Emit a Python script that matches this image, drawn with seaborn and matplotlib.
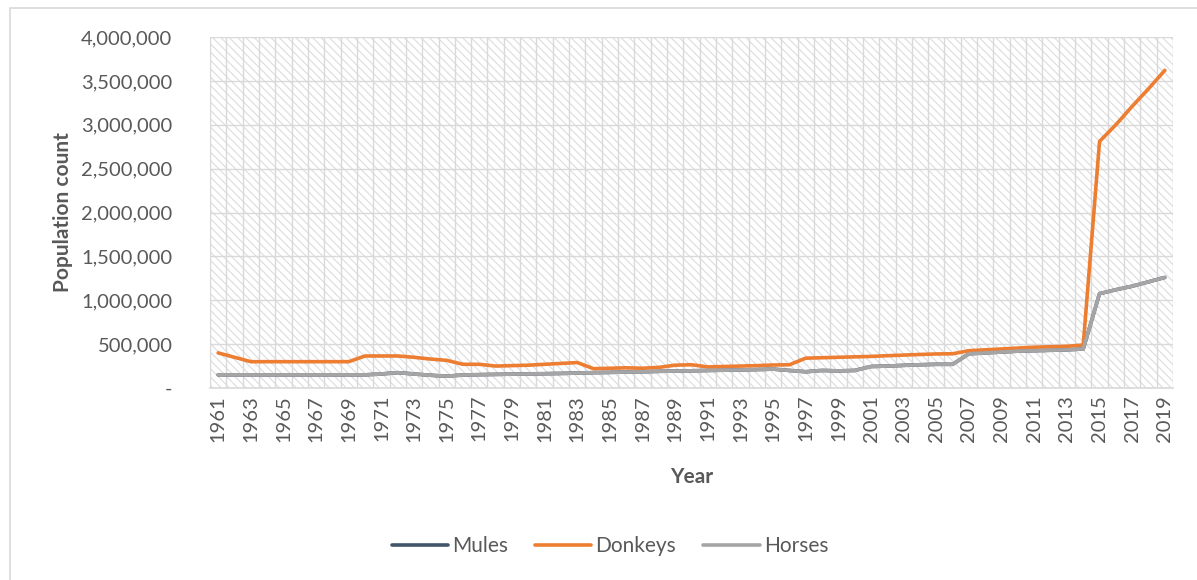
import pandas as pd
import matplotlib.pyplot as plt
import seaborn as sns
from matplotlib.patches import Rectangle
from matplotlib.ticker import FuncFormatter, MultipleLocator

years = list(range(1961, 2020))

donkeys = [400000, 350000, 300000, 300000, 300000, 300000, 300000, 300000, 300000, 365000,
           365000, 365000, 350000, 330000, 315000, 270000, 270000, 250000, 255000, 260000,
           270000, 280000, 290000, 220000, 225000, 230000, 225000, 235000, 260000, 265000,
           240000, 245000, 250000, 255000, 262000, 265000, 340000, 345000, 350000, 355000,
           360000, 368000, 375000, 382000, 388000, 390000, 425000, 435000, 445000, 455000,
           465000, 470000, 475000, 490000, 2810000, 3000000, 3210000, 3410000, 3620000]

horses = [150000, 150000, 150000, 150000, 150000, 150000, 150000, 150000, 150000, 150000,
          160000, 175000, 160000, 145000, 135000, 148000, 152000, 155000, 158000, 160000,
          163000, 166000, 170000, 175000, 178000, 182000, 185000, 190000, 193000, 196000,
          200000, 203000, 206000, 210000, 215000, 200000, 185000, 200000, 195000, 200000,
          245000, 250000, 258000, 265000, 270000, 270000, 390000, 400000, 410000, 420000,
          425000, 430000, 435000, 445000, 1075000, 1120000, 1160000, 1210000, 1260000]

# mules run underneath the horses line in the original, so they are not visible
mules = [150000, 150000, 150000, 150000, 150000, 150000, 150000, 150000, 150000, 150000,
         160000, 175000, 160000, 145000, 135000, 148000, 152000, 155000, 158000, 160000,
         163000, 166000, 170000, 175000, 178000, 182000, 185000, 190000, 193000, 196000,
         200000, 203000, 206000, 210000, 215000, 200000, 185000, 200000, 195000, 200000,
         245000, 250000, 258000, 265000, 270000, 270000, 390000, 400000, 410000, 420000,
         425000, 430000, 435000, 445000, 1075000, 1120000, 1160000, 1210000, 1260000]

series = ["Mules", "Donkeys", "Horses"]
colors = ["#44546a", "#ed7d31", "#a5a5a5"]

df = pd.DataFrame({"Year": years * 3,
                   "Animal": [s for s in series for _ in years],
                   "Count": mules + donkeys + horses})

sns.set_style("white")
plt.rcParams["font.family"] = ["Lato", "DejaVu Sans"]
plt.rcParams["hatch.linewidth"] = 0.8
plt.rcParams["hatch.color"] = "#dcdcdc"

fig = plt.figure(figsize=(11.97, 5.8), dpi=100)
ax = fig.add_axes([210 / 1197, 1 - 388 / 580, 963 / 1197, 351 / 580])

# outer chart border
fig.patches.append(Rectangle((10 / 1197, -0.1), 1.2, 1 - 8 / 580 + 0.1, transform=fig.transFigure,
                             fill=False, edgecolor="#d9d9d9", linewidth=1.2))

# hatched plot area
ax.add_patch(Rectangle((0, 0), 1, 1, transform=ax.transAxes, facecolor="white",
                       edgecolor="#dcdcdc", hatch="\\\\\\\\", linewidth=0, zorder=0))

sns.lineplot(data=df, x="Year", y="Count", hue="Animal", hue_order=series,
             palette=colors, linewidth=2.6, ax=ax, legend=False, zorder=3)

ax.set_xlim(1960.5, 2019.5)
ax.set_ylim(0, 4000000)
ax.xaxis.set_major_locator(MultipleLocator(2, offset=1))
ax.xaxis.set_minor_locator(MultipleLocator(1, offset=0.5))
ax.yaxis.set_major_locator(MultipleLocator(500000))
ax.yaxis.set_major_formatter(FuncFormatter(lambda v, p: "-" if v == 0 else f"{int(v):,}"))

ax.grid(False)
ax.grid(True, which="minor", axis="x", color="#d9d9d9", linewidth=1.0, zorder=1)
ax.grid(True, which="major", axis="y", color="#d9d9d9", linewidth=1.0, zorder=1)
ax.set_axisbelow(True)

for side in ["top", "right", "left"]:
    ax.spines[side].set_visible(False)
ax.spines["bottom"].set_color("#d9d9d9")
ax.spines["bottom"].set_linewidth(1.2)

ax.tick_params(axis="both", which="both", length=0, labelcolor="#595959", labelsize=14.5)
ax.tick_params(axis="x", rotation=90, pad=5)
ax.tick_params(axis="y", pad=27)

ax.set_xlabel("Year", fontsize=15, fontweight="bold", color="#595959", labelpad=18)
ax.set_ylabel("Population count", fontsize=15, fontweight="bold", color="#595959", labelpad=6)

handles = [plt.Line2D([], [], color=c, linewidth=2.6) for c in colors]
fig.legend(handles, series, loc="center", bbox_to_anchor=(610 / 1197, 1 - 546 / 580), ncol=3,
           frameon=False, fontsize=15, handlelength=2.7, columnspacing=1.3, handletextpad=0.2,
           labelcolor="#595959")

plt.savefig("out.png", dpi=100)
plt.close()
